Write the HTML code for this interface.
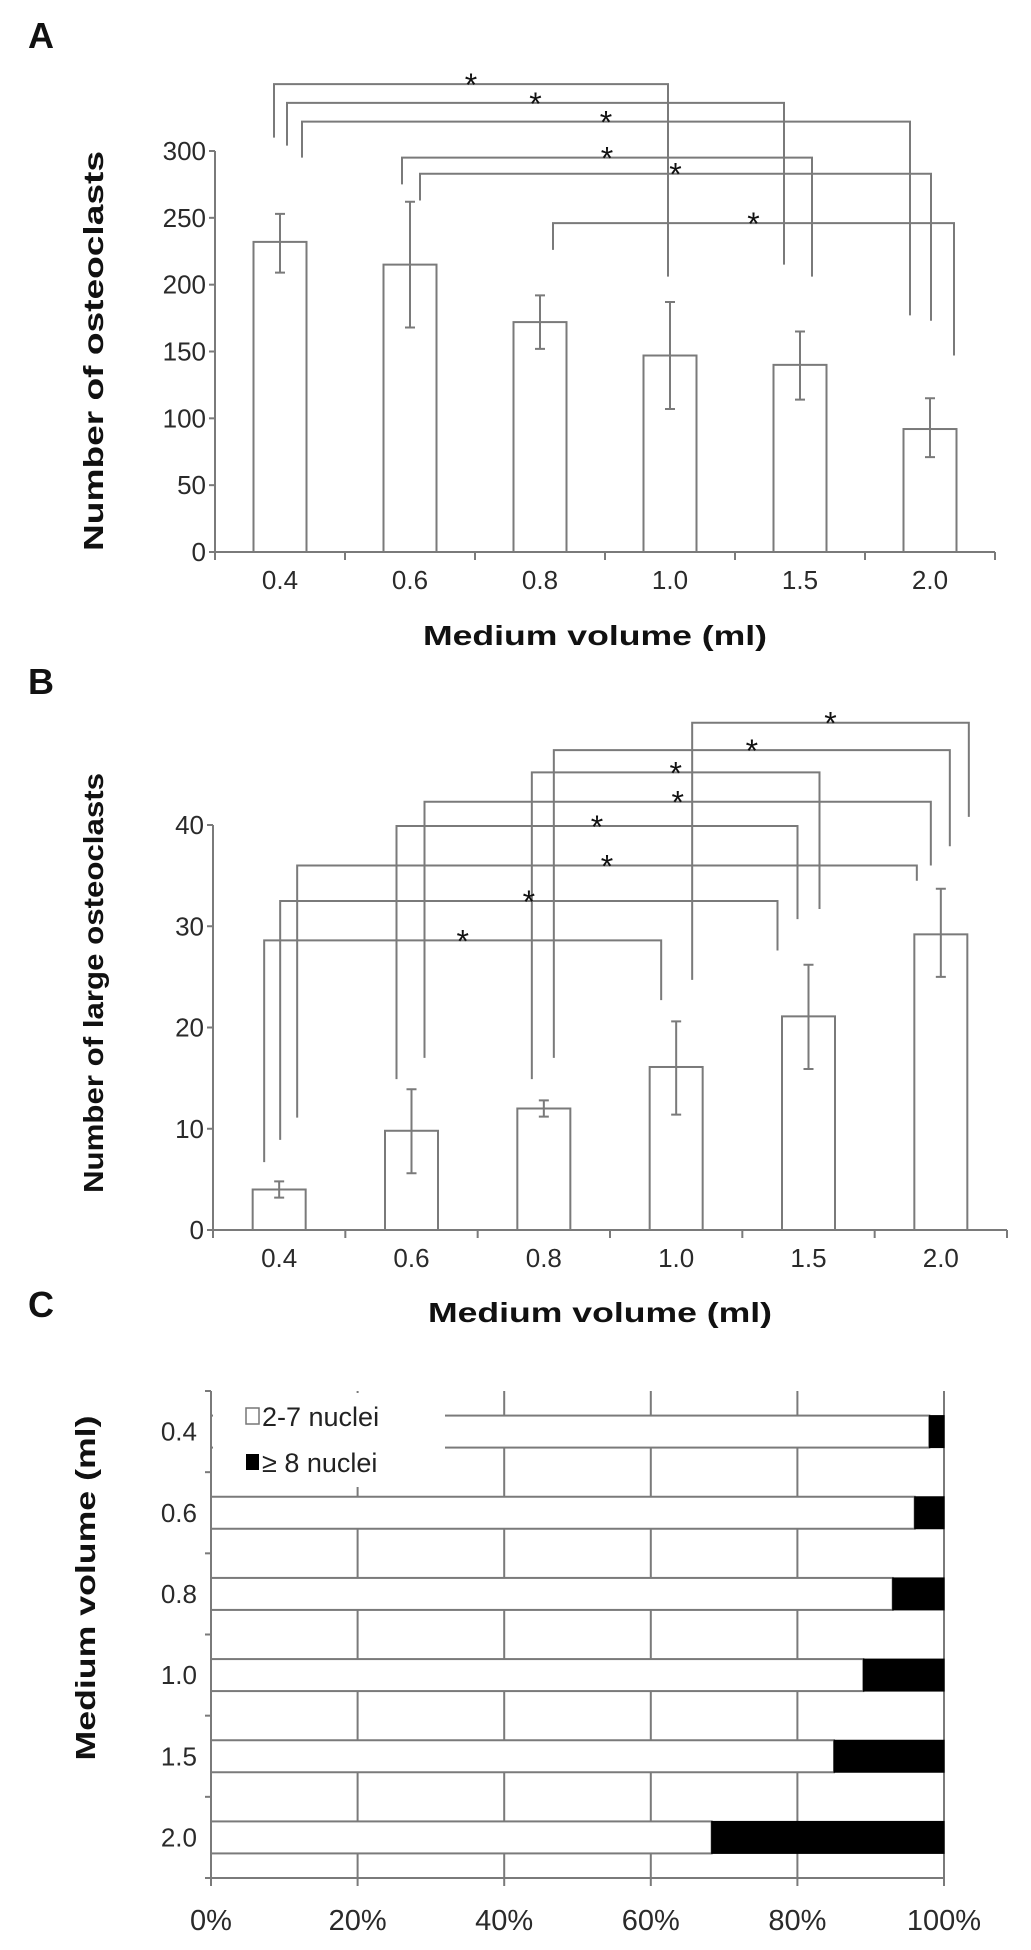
<!DOCTYPE html>
<html><head><meta charset="utf-8"><style>
body{margin:0;background:#fff}
svg{display:block;font-family:"Liberation Sans",Arial,sans-serif}
</style></head><body>
<svg id="fig" width="1031" height="1950" viewBox="0 0 1031 1950" xmlns="http://www.w3.org/2000/svg">
<rect width="1031" height="1950" fill="#fff"/>
<text x="28" y="48" font-size="36" font-weight="bold" fill="#111">A</text>
<text x="28" y="694" font-size="36" font-weight="bold" fill="#111">B</text>
<text x="28" y="1317" font-size="36" font-weight="bold" fill="#111">C</text>
<g id="ga"></g>
<g id="gb"></g>
<g id="gc"></g>
</svg>
<script>
const categories = ["0.4","0.6","0.8","1.0","1.5","2.0"];
// Panel A
const aValues = [232, 215, 172, 147, 140, 92];
const aErrHigh = [253, 262, 192, 187, 165, 115];
const aErrLow = [209, 168, 152, 107, 114, 71];
const aTicks = [0, 50, 100, 150, 200, 250, 300];
// brackets: [fromIdx, fromOffset, toIdx, toOffset, level, leftEnd, rightEnd]
const aBrackets = [
 [0,-6,3,-2,350,310,206],
 [0,7,4,-16,336,304,215],
 [0,22,5,-20,322,295,177],
 [1,-8,4,12,295,275,206],
 [1,10,5,1,283,263,173],
 [2,13,5,24,246,226,147]
];
// Panel B
const bValues = [4.0, 9.8, 12.0, 16.1, 21.1, 29.2];
const bErrHigh = [4.8, 13.9, 12.8, 20.6, 26.2, 33.7];
const bErrLow = [3.2, 5.6, 11.2, 11.4, 15.9, 25.0];
const bTicks = [0, 10, 20, 30, 40];
const bBrackets = [
 [3,16,5,28,50.1,24.7,40.8],
 [2,10,5,9,47.4,17.0,37.9],
 [2,-12,4,11,45.2,14.9,31.7],
 [1,13,5,-10,42.3,17.0,36.0],
 [1,-15,4,-11,39.9,14.9,30.7],
 [0,18,5,-24,36.0,11.1,34.5],
 [0,1,4,-31,32.5,8.9,27.6],
 [0,-15,3,-15,28.6,6.7,22.7]
];
// Panel C
const cSmall = [98, 96, 93, 89, 85, 68.3];
const cTicks = [0, 20, 40, 60, 80, 100];
const cTickLabels = ["0%","20%","40%","60%","80%","100%"];

const NS="http://www.w3.org/2000/svg";
function mk(parent,tag,attrs){const e=document.createElementNS(NS,tag);for(const k in attrs)e.setAttribute(k,attrs[k]);parent.appendChild(e);return e;}
const LC="#7a7a7a";

function barPanel(g,cfg){
 const {x0,x1,y0,yTop,vmax,values,hi,lo,ticks,brackets,tickY,titleY,ylab,ylabY,ylabLen,pfx}=cfg;
 const band=(x1-x0)/categories.length;
 const xc=i=>x0+band*(i+0.5);
 const y=v=>y0-(y0-yTop)*v/vmax;
 const bw=53;
 let ax=mk(g,'line',{x1:x0,y1:y0,x2:x0,y2:y(ticks[ticks.length-1]),stroke:LC,'stroke-width':2});
 
 let xa=mk(g,'line',{x1:x0,y1:y0,x2:x1,y2:y0,stroke:LC,'stroke-width':2});
 
 ticks.forEach(t=>{
  mk(g,'line',{x1:x0-6,y1:y(t),x2:x0,y2:y(t),stroke:LC,'stroke-width':2});
  const tx=mk(g,'text',{x:x0-9,y:y(t)+9,'font-size':26,'text-anchor':'end',fill:'#2a2a2a'});
  tx.textContent=t;
  
  
 });
 for(let i=0;i<=categories.length;i++) mk(g,'line',{x1:x0+band*i,y1:y0,x2:x0+band*i,y2:y0+8,stroke:LC,'stroke-width':2});
 categories.forEach((c,i)=>{
  const tx=mk(g,'text',{x:xc(i),y:tickY,'font-size':26,'text-anchor':'middle',fill:'#2a2a2a'});
  tx.textContent=c;
  
  
  const r=mk(g,'rect',{x:xc(i)-bw/2,y:y(values[i]),width:bw,height:y0-y(values[i]),fill:'#fff',stroke:LC,'stroke-width':2});
  
  
  const e=mk(g,'path',{d:`M${xc(i)},${y(hi[i])}V${y(lo[i])}M${xc(i)-5},${y(hi[i])}h10M${xc(i)-5},${y(lo[i])}h10`,stroke:LC,'stroke-width':2,fill:'none'});
  
  
 });
 brackets.forEach(b=>{
  const xl=xc(b[0])+b[1], xr=xc(b[2])+b[3], yl=y(b[4]);
  const p=mk(g,'path',{d:`M${xl},${y(b[5])}V${yl}H${xr}V${y(b[6])}`,stroke:LC,'stroke-width':2,fill:'none'});
  
  
  const s=mk(g,'text',{x:(xl+xr)/2,y:yl+12,'font-size':32,'text-anchor':'middle',fill:'#111'});
  s.textContent='*';
  
  
 });
 const xt=mk(g,'text',{x:(x0+x1)/2-10,y:titleY,'font-size':28,'font-weight':'bold','text-anchor':'middle',fill:'#111',textLength:344,lengthAdjust:'spacingAndGlyphs'});
 xt.textContent='Medium volume (ml)';
 
 
 const yt=mk(g,'text',{x:0,y:0,'font-size':28,'font-weight':'bold','text-anchor':'middle',fill:'#111',transform:`translate(103,${ylabY}) rotate(-90)`,textLength:ylabLen,lengthAdjust:'spacingAndGlyphs'});
 yt.textContent=ylab;
 
 
}
barPanel(document.getElementById('ga'),{x0:215,x1:995,y0:552,yTop:151,vmax:300,values:aValues,hi:aErrHigh,lo:aErrLow,ticks:aTicks,brackets:aBrackets,tickY:589,titleY:645,ylab:'Number of osteoclasts',ylabY:351,ylabLen:400,pfx:'a'});
barPanel(document.getElementById('gb'),{x0:213,x1:1007,y0:1230,yTop:825,vmax:40,values:bValues,hi:bErrHigh,lo:bErrLow,ticks:bTicks,brackets:bBrackets,tickY:1267,titleY:1322,ylab:'Number of large osteoclasts',ylabY:983,ylabLen:420,pfx:'b'});

// Panel C
(function(){
 const g=document.getElementById('gc');
 const x0=211,x1=944,top=1391,bot=1878;
 const step=(bot-top)/categories.length;
 const x=p=>x0+(x1-x0)*p/100;
 const bh=32;
 cTicks.forEach((t,i)=>{
  if(t>0){const gl=mk(g,'line',{x1:x(t),y1:top,x2:x(t),y2:bot,stroke:LC,'stroke-width':2});
   }
  mk(g,'line',{x1:x(t),y1:bot,x2:x(t),y2:bot+8,stroke:LC,'stroke-width':2});
  const tx=mk(g,'text',{x:x(t),y:1930,'font-size':29,'text-anchor':'middle',fill:'#2a2a2a'});
  tx.textContent=cTickLabels[i];
  
  
 });
 for(let i=0;i<=categories.length;i++) mk(g,'line',{x1:x0-6,y1:top+step*i,x2:x0,y2:top+step*i,stroke:LC,'stroke-width':2});
 categories.forEach((c,i)=>{
  const yc=top+step*(i+0.5);
  const r1=mk(g,'rect',{x:x0,y:yc-bh/2,width:x(cSmall[i])-x0,height:bh,fill:'#fff',stroke:LC,'stroke-width':2});
  
  
  const r2=mk(g,'rect',{x:x(cSmall[i]),y:yc-bh/2,width:x(100)-x(cSmall[i]),height:bh,fill:'#000',stroke:'#000','stroke-width':1});
  
  
  const tx=mk(g,'text',{x:x0-14,y:yc+9,'font-size':26,'text-anchor':'end',fill:'#2a2a2a'});
  tx.textContent=c;
  
  
 });
 const lg=mk(g,'g',{});
 
 
 mk(lg,'rect',{x:x0+2,y:top+2,width:232,height:94,fill:'#fff'});
 mk(lg,'rect',{x:246,y:1408,width:13,height:16,fill:'#fff',stroke:'#777','stroke-width':1.5});
 const t1=mk(lg,'text',{x:262,y:1426,'font-size':27,fill:'#222'});t1.textContent='2-7 nuclei';
 
 mk(lg,'rect',{x:246,y:1454,width:13,height:16,fill:'#000'});
 const t2=mk(lg,'text',{x:262,y:1472,'font-size':27,fill:'#222'});t2.textContent='\u2265 8 nuclei';
 
 const ya=mk(g,'line',{x1:x0,y1:top,x2:x0,y2:bot,stroke:LC,'stroke-width':2});
 
 const xa=mk(g,'line',{x1:x0,y1:bot,x2:x1,y2:bot,stroke:LC,'stroke-width':2});
 
 const yt=mk(g,'text',{x:0,y:0,'font-size':28,'font-weight':'bold','text-anchor':'middle',fill:'#111',transform:'translate(95,1588) rotate(-90)',textLength:345,lengthAdjust:'spacingAndGlyphs'});
 yt.textContent='Medium volume (ml)';
 
 
})();
</script>
</body></html>
